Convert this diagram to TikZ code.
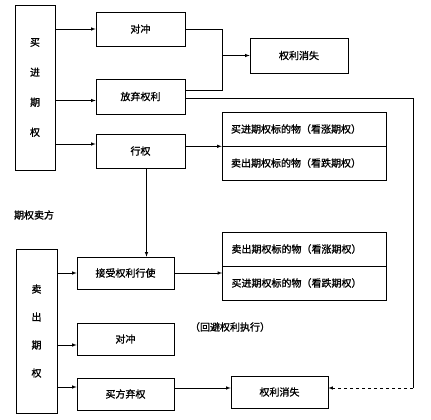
\documentclass[tikz,border=0pt]{standalone}
\usepackage{fontspec}
\newfontfamily\cjk[FakeBold=1.2]{Noto Sans CJK SC}
\usetikzlibrary{positioning}

\begin{document}
\begin{tikzpicture}[x=1pt, y=-1pt, >=latex, line width=0.6pt,
		every node/.style={font=\cjk\fontsize{10}{12}\selectfont},
		box/.style={draw, minimum width=89pt, minimum height=34pt, inner sep=0pt},
		lowbox/.style={draw, minimum width=97pt, minimum height=32pt, inner sep=0pt},
		wide/.style={draw, text width=146pt, inner xsep=9pt, minimum height=34pt, inner ysep=0pt, align=left},
		side/.style={draw, inner sep=0pt, align=center}]
		\useasboundingbox (0,0) rectangle (431,420);
		\node [side, minimum width=40pt, minimum height=165pt, font=\cjk\fontsize{10}{30}\selectfont] (buy) at (35,87.5) {买\\进\\期\\权};
		\node [box] (dc1) at (140.5,29) {对冲};
		\node [box, minimum height=35pt] (fq) at (140.5,96.5) {放弃权利};
		\node [box] (xq) at (140.5,151) {行权};
		\node [box, minimum width=98pt, minimum height=35pt] (xs1) at (299,55.5) {权利消失};
		\node [wide] (b1a) at (304,129) {买进期权标的物（看涨期权）};
		\node [wide] (b1b) at (304,163) {卖出期权标的物（看跌期权）};
		\node (seller) at (34,215) {期权卖方};
		\node [side, minimum width=41pt, minimum height=164pt, font=\cjk\fontsize{10}{28}\selectfont] (sell) at (36.5,331) {卖\\出\\期\\权};
		\node [lowbox] (js) at (125.5,273) {接受权利行使};
		\node [lowbox] (dc2) at (125.5,339) {对冲};
		\node [lowbox] (mf) at (125.5,394) {买方弃权};
		\node [lowbox] (xs2) at (279.5,392) {权利消失};
		\node [wide] (b2a) at (304.5,249) {卖出期权标的物（看涨期权）};
		\node [wide] (b2b) at (304.5,283) {买进期权标的物（看跌期权）};
		\node (note) at (230,327) {（回避权利执行）};
		\coordinate (j) at (222,0);
		\coordinate (r) at (413,0);
		\draw [->] (buy.east |- dc1.west) -- (dc1.west);
		\draw [->] ([yshift=-4pt]fq.west -| buy.east) -- ([yshift=-4pt]fq.west);
		\draw [->] ([yshift=7pt]xq.west -| buy.east) -- ([yshift=7pt]xq.west);
		\draw (dc1.east) -- (dc1.east -| j) -- ([yshift=6pt]fq.east -| j) -- ([yshift=6pt]fq.east);
		\draw [->] (xs1.west -| j) -- (xs1.west);
		\draw ([yshift=-2pt]fq.east) -- ([yshift=-2pt]fq.east -| r) -- ([yshift=4pt]xs2.east -| r);
		\draw [dashed,->] ([yshift=4pt]xs2.east -| r) -- ([yshift=4pt]xs2.east);
		\draw [->] (xq.east |- b1a.south west) -- (b1a.south west);
		\draw [->] ([xshift=6pt]xq.south) -- ([xshift=6pt]xq.south |- js.north);
		\draw [->] (sell.east |- js.west) -- (js.west);
		\draw [->] ([yshift=-6pt]dc2.west -| sell.east) -- ([yshift=-6pt]dc2.west);
		\draw [->] ([yshift=7pt]mf.west -| sell.east) -- ([yshift=7pt]mf.west);
		\draw [->] (js.east) -- (js.east -| b2b.west);
		\draw [->] ([yshift=4pt]xs2.west -| mf.east) -- ([yshift=4pt]xs2.west);
	\end{tikzpicture}
\end{document}
